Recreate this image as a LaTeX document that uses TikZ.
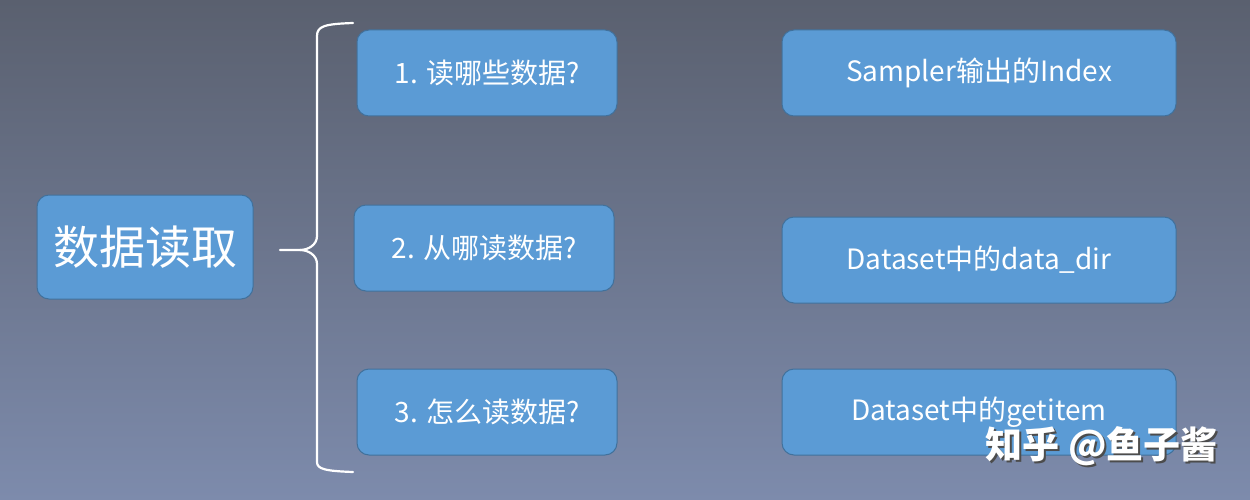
\documentclass[tikz,border=0pt]{standalone}
\usepackage{fontspec}
\setmainfont{Noto Sans CJK SC}
\newfontfamily\cjk{Noto Sans CJK SC}
\definecolor{boxfill}{HTML}{5B9BD5}
\definecolor{boxline}{HTML}{41719C}
\definecolor{bgtop}{HTML}{5A606F}
\definecolor{bgbot}{HTML}{7D8BAC}
\tikzset{
  box/.style={draw=boxline, line width=1pt, fill=boxfill, rounded corners=12pt, text=white, inner sep=0pt, font=\cjk\fontsize{28}{32}\selectfont},
  brace/.style={draw=white, line width=2.2pt, line cap=round}
}
\begin{document}
\begin{tikzpicture}[x=1pt,y=-1pt]
\useasboundingbox (0,0) rectangle (1250,500);
\shade[top color=bgtop, bottom color=bgbot] (0,0) rectangle (1250,500);
\node[box, minimum width=216pt, minimum height=104pt, font=\cjk\fontsize{46}{52}\selectfont] (main) at (145,247) {数据读取};
\node[box, minimum width=260pt, minimum height=86pt] (q1) at (487,73) {1. 读哪些数据?};
\node[box, minimum width=260pt, minimum height=86pt] (q2) at (484,248) {2. 从哪读数据?};
\node[box, minimum width=260pt, minimum height=86pt] (q3) at (487,412) {3. 怎么读数据?};
\node[box, minimum width=394pt, minimum height=86pt] (a1) at (979,73) {Sampler输出的Index};
\node[box, minimum width=394pt, minimum height=86pt] (a2) at (979,260) {Dataset中的data\_dir};
\node[box, minimum width=394pt, minimum height=86pt] (a3) at (979,412) {Dataset中的getitem};
\coordinate (btop) at (353,23);
\coordinate (bbot) at (353,472);
\coordinate (btip) at (280,250);
\draw[brace] (btop) .. controls (325,24) and (317,26) .. (317,36)
  -- (317,236) .. controls (317,245) and (308,250) .. (300,250) -- (btip);
\draw[brace] (300,250) .. controls (308,250) and (317,255) .. (317,264)
  -- (317,462) .. controls (317,469) and (325,471) .. (bbot);
\node[font=\cjk\bfseries\fontsize{37}{40}\selectfont, text=black!70, anchor=west] (wms) at (984,448) {知乎 @鱼子酱};
\node[font=\cjk\bfseries\fontsize{37}{40}\selectfont, text=white, anchor=west] (wm) at (982,446) {知乎 @鱼子酱};
\end{tikzpicture}
\end{document}
